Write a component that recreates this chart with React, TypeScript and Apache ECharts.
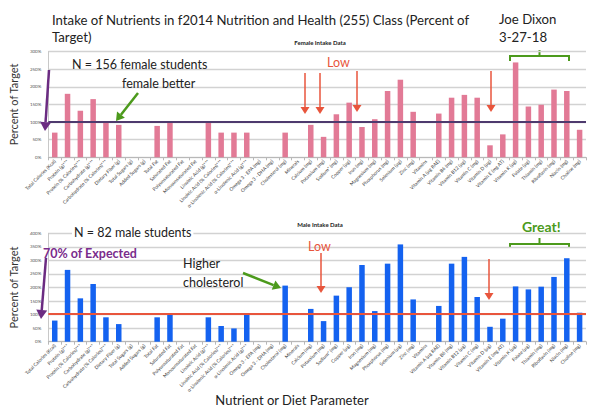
import React, { useEffect, useRef } from "react";
import * as echarts from "echarts";

const categories = [
  "Total Calories (Kcal)", "Protein (g)***", "Protein (% Calories)***", "Carbohydrate (g)***",
  "Carbohydrate (% Calories)***", "Dietary Fiber (g)", "Total Sugars (g)", "Added Sugars (g)",
  "Total Fat", "Saturated Fat", "Polyunsaturated Fat", "Monounsaturated Fat",
  "Linoleic Acid (g)***", "Linoleic Acid (% Calories)***", "α-Linolenic Acid (% Calories)***",
  "α-Linolenic Acid (g)***", "Omega 3 - EPA (mg)", "Omega 3 - DHA (mg)", "Cholesterol (mg)",
  "Minerals", "Calcium (mg)", "Potassium (mg)", "Sodium* (mg)", "Copper (µg)", "Iron (mg)",
  "Magnesium (mg)", "Phosphorus (mg)", "Selenium (µg)", "Zinc (mg)", "Vitamins",
  "Vitamin A (µg RAE)", "Vitamin B6 (mg)", "Vitamin B12 (µg)", "Vitamin C (mg)", "Vitamin D (µg)",
  "Vitamin E (mg AT)", "Vitamin K (µg)", "Folate (µg)", "Thiamin (mg)", "Riboflavin (mg)",
  "Niacin (mg)", "Choline (mg)",
];

const femaleValues = [
  70, 180, 132, 165, 98, 92, null, null, 89, 100, null, null, 100, 70, 70, 70, null, null, 70,
  null, 92, 58, 122, 155, 86, 108, 188, 220, 129, null, 124, 169, 177, 169, 34, 65, 269, 144,
  149, 192, 188, 78,
];

const maleValues = [
  78, 265, 160, 213, 90, 65, null, null, 90, 101, null, null, 90, 58, 49, 100, null, null, 207,
  null, 121, 76, 170, 201, 283, 113, 288, 359, 156, null, 132, 288, 313, 165, 55, 85, 204, 193,
  203, 239, 308, 107,
];

const femaleTarget = 100;
const maleTarget = 102;
const femaleMax = 300;
const maleMax = 400;
const tickStep = 50;

const FONT = "Lato, 'Open Sans', sans-serif";

function arrow(x1: number, y1: number, x2: number, y2: number, color: string, width: number, head = 7, half = 4.5) {
  const dx = x2 - x1;
  const dy = y2 - y1;
  const len = Math.sqrt(dx * dx + dy * dy);
  const ux = dx / len;
  const uy = dy / len;
  const bx = x2 - ux * head;
  const by = y2 - uy * head;
  const px = -uy;
  const py = ux;
  return {
    type: "group",
    z: 10,
    children: [
      { type: "line", z: 10, shape: { x1, y1, x2: bx, y2: by }, style: { stroke: color, lineWidth: width } },
      {
        type: "polygon",
        z: 10,
        shape: { points: [[x2, y2], [bx + px * half, by + py * half], [bx - px * half, by - py * half]] },
        style: { fill: color },
      },
    ],
  };
}

function txt(x: number, y: number, text: string, size: number, color: string, extra: any = {}) {
  return {
    type: "text",
    x,
    y,
    z: 9,
    style: {
      text,
      fontSize: size,
      fontFamily: FONT,
      fill: color,
      textVerticalAlign: "middle",
      verticalAlign: "middle",
      ...extra,
    },
  };
}

function bracket(xl: number, xr: number, y: number, drop: number, stub: number, color: string) {
  const xc = (xl + xr) / 2;
  return {
    type: "group",
    children: [
      {
        type: "polyline",
        shape: { points: [[xl, y + drop], [xl, y], [xr, y], [xr, y + drop]] },
        style: { stroke: color, lineWidth: 2, fill: null },
      },
      { type: "line", shape: { x1: xc, y1: y, x2: xc, y2: y - stub }, style: { stroke: color, lineWidth: 2 } },
    ],
  };
}

export default function App() {
  const ref = useRef<HTMLDivElement>(null);

  useEffect(() => {
    if (!ref.current) return;
    const chart = echarts.init(ref.current, undefined, { renderer: "svg" });

    const xAxisCommon = (gridIndex: number) => ({
      type: "category",
      gridIndex,
      data: categories,
      boundaryGap: true,
      axisLine: { lineStyle: { color: "#b8b8b8", width: 1 } },
      axisTick: { show: true, length: 3, lineStyle: { color: "#b8b8b8" } },
      axisLabel: {
        interval: 0,
        rotate: 45,
        fontSize: 4.8,
        margin: 3,
        color: "#3a3a3a",
        fontFamily: FONT,
      },
    });

    const yAxisCommon = (gridIndex: number, max: number) => ({
      type: "value",
      gridIndex,
      min: 0,
      max,
      interval: tickStep,
      name: "Percent of Target",
      nameLocation: "middle",
      nameRotate: 90,
      nameGap: 25,
      nameTextStyle: { fontSize: 11, color: "#333", fontFamily: FONT },
      axisLine: { show: true, lineStyle: { color: "#c8c8c8", width: 1 } },
      axisTick: { show: false },
      axisLabel: {
        formatter: "{value}%",
        fontSize: 4.5,
        color: "#555",
        margin: 7,
        fontFamily: FONT,
      },
      splitLine: { lineStyle: { color: "#d2d2d2", width: 1.4 } },
    });

    const graphics: any[] = [
      txt(52, 20, "Intake of Nutrients in f2014 Nutrition and Health (255) Class (Percent of", 13.2, "#222"),
      txt(52, 37, "Target)", 13.2, "#222"),
      txt(499, 19, "Joe Dixon", 13.2, "#222"),
      txt(499, 37, "3-27-18", 13.2, "#222"),
      txt(320, 42, "Female Intake Data", 6, "#222", { fontWeight: "bold", align: "center", textAlign: "center" }),
      txt(320, 224, "Male Intake Data", 6, "#222", { fontWeight: "bold", align: "center", textAlign: "center" }),
      txt(72, 64, "N = 156 female students", 12.5, "#222"),
      txt(122, 83, "female better", 12.5, "#222"),
      txt(327, 62, "Low", 12.5, "#e8553c"),
      txt(72, 232, "N = 82 male students", 12.5, "#222", { backgroundColor: "#ffffff", padding: [0, 2] }),
      txt(43, 253, "70% of Expected", 12.5, "#7a2c8c", { fontWeight: "bold" }),
      txt(183, 263, "Higher", 12.5, "#222"),
      txt(183, 282, "cholesterol", 12.5, "#222"),
      txt(308, 246, "Low", 12.5, "#e8553c"),
      txt(522, 226, "Great!", 14, "#4c9a1c", { fontWeight: "bold" }),
      txt(292, 400, "Nutrient or Diet Parameter", 13, "#222", { align: "center", textAlign: "center" }),
      arrow(49, 70, 45, 131, "#6b2c82", 2.5, 9, 5.5),
      arrow(138, 93, 116, 121, "#4c9a1c", 2.5, 8, 5),
      arrow(305, 73, 305, 114, "#e8553c", 1.5),
      arrow(320, 73, 320, 114, "#e8553c", 1.5),
      arrow(357, 71, 357, 112, "#e8553c", 1.5),
      arrow(491, 71, 491, 112, "#e8553c", 1.5),
      arrow(46, 258, 41, 319, "#6b2c82", 2.5, 9, 5.5),
      arrow(243, 273, 281, 288, "#4c9a1c", 2.5, 8, 5),
      arrow(321, 253, 321, 293, "#e8553c", 1.5),
      arrow(489, 259, 489, 300, "#e8553c", 1.5),
      bracket(510, 569, 56, 5, 6, "#4c9a1c"),
      bracket(510, 569, 244, 4, 6, "#4c9a1c"),
    ];

    chart.setOption({
      animation: false,
      backgroundColor: "#ffffff",
      textStyle: { fontFamily: FONT },
      grid: [
        { left: 41, right: 13, top: 51.5, height: 105.8 },
        { left: 41, right: 13, top: 233.3, height: 108.4 },
      ],
      xAxis: [xAxisCommon(0), xAxisCommon(1)],
      yAxis: [yAxisCommon(0, femaleMax), yAxisCommon(1, maleMax)],
      series: [
        {
          type: "bar",
          name: "Female",
          xAxisIndex: 0,
          yAxisIndex: 0,
          data: femaleValues,
          barWidth: 5.5,
          itemStyle: { color: "#e27a96" },
          markLine: {
            silent: true,
            symbol: ["none", "none"],
            label: { show: false },
            lineStyle: { color: "#4e3a6e", width: 2, type: "solid" },
            data: [{ yAxis: femaleTarget }],
          },
        },
        {
          type: "bar",
          name: "Male",
          xAxisIndex: 1,
          yAxisIndex: 1,
          data: maleValues,
          barWidth: 5.5,
          itemStyle: { color: "#1462f0" },
          markLine: {
            silent: true,
            symbol: ["none", "none"],
            label: { show: false },
            lineStyle: { color: "#e8553c", width: 2, type: "solid" },
            data: [{ yAxis: maleTarget }],
          },
        },
      ],
      graphic: graphics,
    });

    return () => {
      chart.dispose();
    };
  }, []);

  return (
    <div
      ref={ref}
      style={{ position: "fixed", left: 0, top: 0, width: 599, height: 413, background: "#fff" }}
    />
  );
}
